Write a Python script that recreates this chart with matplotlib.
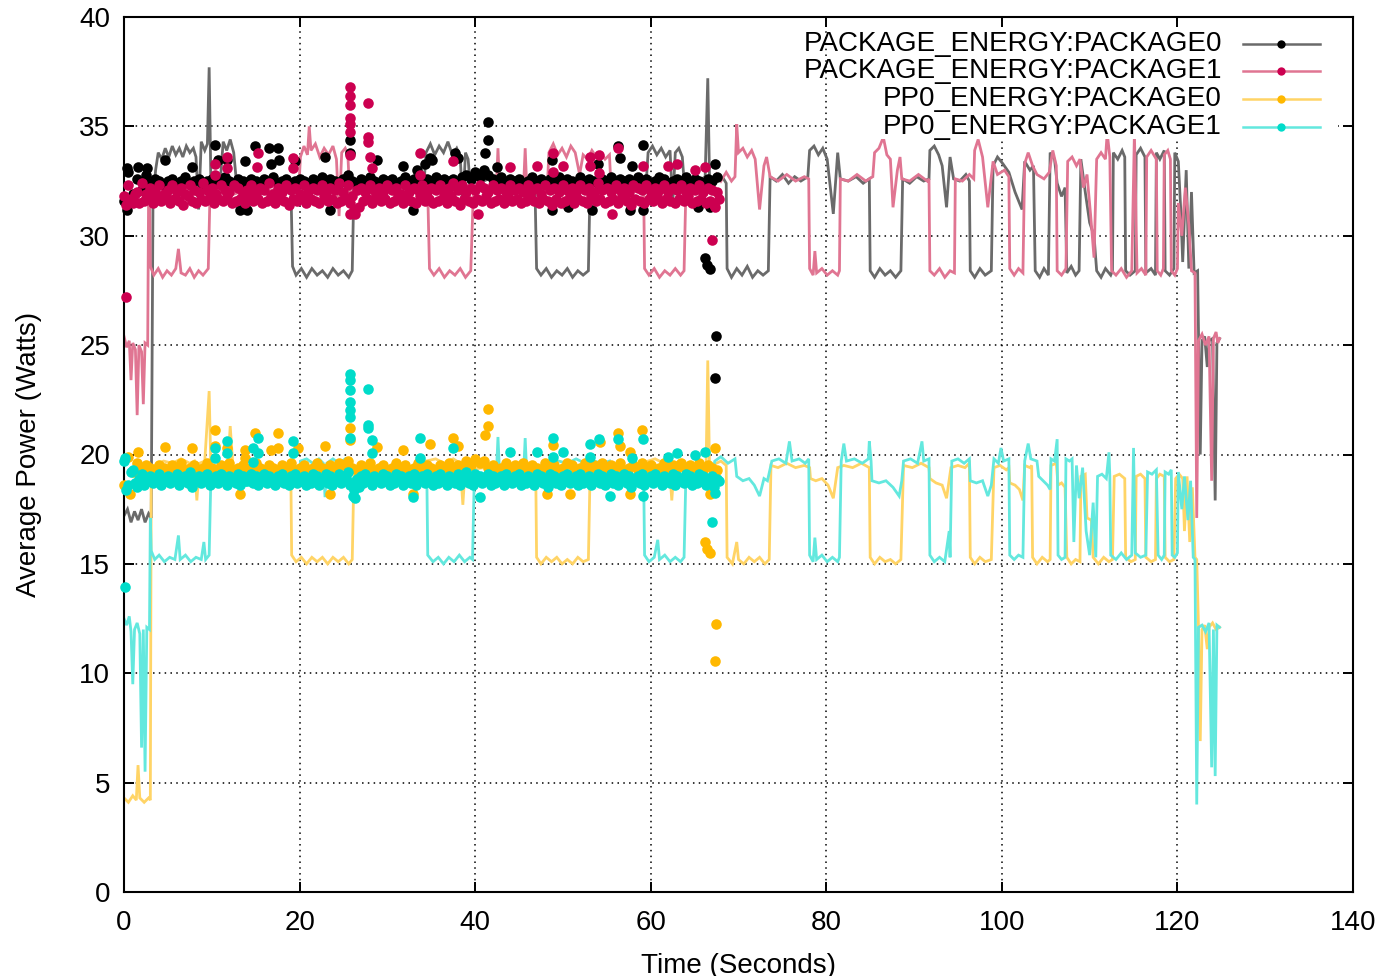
import numpy as np
import matplotlib
matplotlib.use("Agg")
import matplotlib.pyplot as plt
from matplotlib.lines import Line2D
from matplotlib.patches import Rectangle

plt.rcParams['font.family'] = ['Liberation Sans', 'DejaVu Sans']

# ---------------------------------------------------------------- series names
series_names = ["PACKAGE_ENERGY:PACKAGE0", "PACKAGE_ENERGY:PACKAGE1",
                "PP0_ENERGY:PACKAGE0", "PP0_ENERGY:PACKAGE1"]

# ------------------------------------------- full-run traces (time s, watts)
pkg0_line = [
    (0.0, 17.2), (0.4, 17.5), (0.8, 16.9), (1.2, 17.4), (1.6, 17.0), (2.0, 17.5), (2.4, 16.9), (2.8, 17.3), (3.1, 17.1),
    (3.3, 31.5), (3.6, 33.0), (3.9, 33.8), (4.3, 33.5), (4.7, 34.0), (5.1, 33.6), (5.5, 34.1), (5.9, 33.7), (6.3, 34.0),
    (6.7, 33.6), (7.1, 34.1), (7.5, 33.8), (7.9, 34.0), (8.2, 33.6), (8.5, 31.2), (8.8, 34.3), (9.2, 33.9), (9.5, 34.2),
    (9.7, 37.7), (9.9, 32.4), (10.5, 32.5), (11.0, 32.7), (11.3, 34.3), (11.7, 33.9), (12.1, 34.4), (12.5, 33.8),
    (12.8, 32.5), (14.0, 32.6), (15.0, 32.4), (16.0, 32.6), (17.0, 32.5), (18.0, 32.6), (19.0, 32.5),
    (19.2, 28.6), (19.6, 28.2), (20.2, 28.5), (20.8, 28.1), (21.4, 28.5), (22.0, 28.2), (22.6, 28.4), (23.2, 28.1),
    (23.8, 28.5), (24.4, 28.2), (25.0, 28.4), (25.6, 28.1), (26.0, 28.4),
    (26.2, 32.5), (27.0, 32.7), (28.0, 32.5), (29.0, 32.6), (30.0, 32.4), (31.0, 32.6), (32.0, 32.5), (33.0, 32.6), (34.2, 32.5),
    (34.4, 33.8), (34.9, 34.2), (35.4, 33.7), (35.9, 34.1), (36.4, 33.8), (36.9, 34.3), (37.4, 33.7), (37.9, 34.0),
    (38.3, 33.6), (38.6, 31.3), (38.9, 33.8), (39.2, 33.5), (39.4, 32.5), (40.0, 32.6), (41.0, 32.5), (42.0, 32.7),
    (43.0, 32.5), (44.0, 32.6), (45.0, 32.4), (46.8, 32.5),
    (47.0, 28.5), (47.5, 28.2), (48.1, 28.5), (48.7, 28.1), (49.3, 28.4), (49.9, 28.2), (50.5, 28.5), (51.1, 28.1),
    (51.7, 28.4), (52.3, 28.2), (52.9, 28.4),
    (53.1, 32.5), (54.0, 32.6), (55.0, 32.5), (56.0, 32.7), (57.0, 32.5), (58.0, 32.6), (59.5, 32.5),
    (59.7, 33.8), (60.2, 34.1), (60.7, 33.7), (61.2, 34.0), (61.7, 33.6), (62.2, 33.9), (62.5, 31.4), (62.8, 33.8),
    (63.2, 34.0), (63.6, 33.6), (63.8, 32.5), (64.5, 32.6), (65.5, 32.5), (66.2, 32.7), (66.5, 37.2), (66.7, 32.6),
    (67.5, 32.8), (68.3, 32.6), (68.6, 32.4),
    (68.7, 28.5), (69.2, 28.1), (69.8, 28.5), (70.4, 28.2), (71.0, 28.6), (71.6, 28.1), (72.2, 28.4), (72.8, 28.2), (73.4, 28.4),
    (73.6, 32.7), (74.3, 32.5), (75.0, 32.8), (75.7, 32.4), (76.4, 32.7), (77.1, 32.5), (77.9, 32.7),
    (78.1, 33.9), (78.6, 34.1), (79.1, 33.7), (79.6, 34.0), (80.1, 33.5), (80.8, 31.0), (81.3, 33.8), (81.6, 32.6),
    (82.5, 32.5), (83.4, 32.7), (84.2, 32.4), (84.9, 32.6),
    (85.0, 28.4), (85.5, 28.1), (86.1, 28.5), (86.7, 28.2), (87.3, 28.4), (87.9, 28.1), (88.5, 28.4),
    (88.7, 32.6), (89.5, 32.4), (90.3, 32.7), (91.1, 32.5), (91.7, 32.6),
    (91.8, 33.9), (92.3, 34.1), (92.8, 33.7), (93.2, 33.2), (93.7, 31.3), (94.1, 33.6), (94.5, 32.6), (95.2, 32.5),
    (95.9, 32.8), (96.3, 32.5),
    (96.4, 28.4), (96.9, 28.1), (97.5, 28.5), (98.1, 28.2), (98.8, 28.4),
    (99.0, 33.2), (99.5, 33.6), (100.1, 33.3), (100.8, 32.9), (101.5, 32.0), (102.3, 31.2), (102.6, 33.4), (103.2, 33.0), (103.6, 33.2),
    (103.8, 28.4), (104.3, 28.1), (104.8, 28.5), (105.3, 28.2),
    (105.5, 33.8), (106.0, 33.5), (106.3, 32.4), (106.8, 31.8), (107.2, 32.2),
    (107.4, 28.3), (107.9, 28.6), (108.4, 28.2), (108.8, 28.4),
    (109.0, 33.5), (109.5, 32.0), (110.0, 30.6), (110.5, 30.0), (110.8, 28.4), (111.3, 28.1), (111.8, 28.5), (112.4, 28.2), (112.6, 28.4),
    (112.7, 33.8), (113.2, 33.5), (113.7, 33.9), (114.0, 33.6),
    (114.1, 28.4), (114.6, 28.2), (115.2, 28.4),
    (115.3, 33.7), (115.8, 34.0), (116.3, 33.6),
    (116.4, 28.3), (117.0, 28.5), (117.5, 28.2),
    (117.6, 33.8), (118.0, 33.5), (118.5, 33.9),
    (118.6, 28.4), (119.1, 28.2), (119.6, 28.5),
    (119.7, 33.8), (120.1, 33.4), (120.4, 31.0), (120.6, 28.8), (121.0, 33.0), (121.3, 28.5), (121.6, 32.0), (121.9, 28.3), (122.3, 28.4),
    (122.6, 20.0), (122.8, 25.2), (123.1, 25.4), (123.4, 24.0), (123.6, 25.2), (124.0, 25.3), (124.3, 17.9), (124.5, 25.1), (124.8, 25.3),
]

pkg1_line = [
    (0.0, 25.4), (0.3, 24.9), (0.6, 25.2), (0.8, 23.4), (1.0, 25.1), (1.3, 24.8), (1.5, 21.8), (1.7, 25.0), (2.0, 24.7),
    (2.2, 22.3), (2.4, 25.1), (2.7, 25.0),
    (2.8, 31.8), (2.9, 32.3), (3.0, 28.6), (3.4, 28.2), (3.9, 28.5), (4.4, 28.1), (4.9, 28.4), (5.4, 28.2), (5.9, 28.5),
    (6.2, 29.4), (6.5, 28.3), (7.0, 28.2), (7.5, 28.5), (8.0, 28.1), (8.5, 28.4), (9.0, 28.2), (9.6, 28.5),
    (9.8, 32.0), (11.0, 32.1), (12.5, 31.9), (14.0, 32.1), (15.5, 31.9), (17.0, 32.1), (18.5, 32.0), (19.9, 32.1),
    (20.1, 33.6), (20.5, 34.1), (20.9, 33.7), (21.1, 35.0), (21.3, 33.9), (21.8, 34.2), (22.3, 33.6), (22.8, 34.0),
    (23.3, 33.7), (23.8, 34.1), (24.2, 33.5), (24.5, 30.9), (24.8, 33.8), (25.2, 34.0), (25.5, 33.7),
    (25.7, 32.0), (27.0, 32.1), (28.5, 31.9), (30.0, 32.1), (31.5, 31.9), (33.0, 32.1), (34.6, 32.0),
    (34.8, 28.5), (35.3, 28.2), (35.9, 28.5), (36.5, 28.1), (37.1, 28.4), (37.7, 28.2), (38.3, 28.5), (38.9, 28.1), (39.5, 28.4),
    (39.8, 32.0), (41.0, 32.1), (42.4, 32.0), (42.6, 34.0), (42.8, 32.1), (44.0, 32.0), (45.5, 32.1), (45.7, 34.0),
    (45.9, 32.0), (47.0, 32.1), (48.2, 32.0),
    (48.4, 33.8), (48.9, 34.2), (49.4, 33.7), (49.9, 34.0), (50.4, 33.6), (50.9, 34.1), (51.4, 33.8), (51.9, 32.8),
    (52.3, 33.7), (52.8, 33.5), (53.3, 33.9), (53.8, 33.6), (54.3, 33.8), (54.8, 33.5), (55.3, 33.7),
    (55.5, 32.0), (56.5, 32.1), (57.5, 31.9), (58.5, 32.1), (59.2, 32.0),
    (59.3, 28.5), (59.8, 28.2), (60.4, 28.5), (61.0, 28.1), (61.6, 28.4), (62.2, 28.2), (62.8, 28.5), (63.4, 28.2), (63.8, 28.4),
    (64.0, 32.0), (65.0, 32.1), (66.0, 31.9), (67.0, 32.3), (67.5, 32.8), (68.0, 32.5), (68.6, 32.9), (69.2, 32.5), (69.6, 32.7),
    (69.8, 35.1), (70.0, 33.8), (70.5, 34.0), (71.0, 33.6), (71.5, 33.9), (71.9, 33.5), (72.4, 31.2), (72.9, 33.2),
    (73.2, 33.6), (73.6, 32.7), (74.5, 32.5), (75.5, 32.8), (76.5, 32.5), (77.5, 32.7), (78.0, 32.6),
    (78.1, 28.5), (78.5, 28.2), (78.7, 29.3), (78.9, 28.3), (79.5, 28.5), (80.1, 28.2), (80.7, 28.4), (81.3, 28.2), (81.5, 28.4),
    (81.6, 32.6), (82.5, 32.5), (83.5, 32.8), (84.5, 32.5), (85.3, 32.7),
    (85.5, 33.8), (86.0, 34.0), (86.5, 34.5), (86.9, 33.7), (87.3, 33.5), (87.6, 31.3), (88.1, 33.0), (88.4, 33.6),
    (88.6, 32.6), (89.5, 32.5), (90.5, 32.8), (91.5, 32.5), (91.7, 32.6),
    (91.8, 28.4), (92.3, 28.2), (92.9, 28.5), (93.5, 28.1), (94.1, 28.4), (94.6, 28.3),
    (94.7, 32.6), (95.5, 32.5), (96.3, 32.8), (96.8, 32.6),
    (96.9, 33.9), (97.3, 34.4), (97.8, 33.6), (98.4, 31.3), (99.0, 33.4), (99.5, 32.8), (100.3, 33.0), (100.8, 32.7),
    (100.9, 28.5), (101.4, 28.2), (101.9, 28.5), (102.4, 28.3),
    (102.6, 33.3), (103.0, 33.8), (103.5, 33.2), (104.0, 32.8), (104.8, 32.6), (105.4, 32.9), (105.8, 33.9), (106.2, 33.2),
    (106.3, 28.4), (106.8, 28.2), (107.3, 28.5),
    (107.5, 33.4), (108.0, 33.6), (108.5, 33.2), (108.9, 33.5), (109.3, 32.2), (109.7, 32.8), (110.1, 31.0), (110.5, 29.0),
    (110.8, 33.5), (111.3, 33.8), (111.8, 33.5), (112.0, 34.7), (112.3, 33.6),
    (112.5, 28.4), (113.0, 28.2), (113.6, 28.5), (114.2, 28.1), (114.8, 28.4), (115.1, 34.7), (115.4, 28.3), (115.9, 28.5), (116.4, 28.2),
    (116.5, 33.6), (117.0, 33.9), (117.6, 33.5),
    (117.7, 28.4), (118.1, 28.2), (118.4, 28.5),
    (118.5, 33.7), (118.9, 33.9), (119.2, 33.5),
    (119.3, 28.4), (119.7, 28.2), (120.0, 28.5),
    (120.1, 31.5), (120.5, 30.0), (120.9, 32.2), (121.3, 30.5), (121.6, 28.4), (122.0, 28.3), (122.2, 17.1), (122.4, 25.2),
    (122.8, 25.5), (123.2, 25.0), (123.6, 25.4), (123.9, 18.8), (124.1, 25.3), (124.4, 25.6), (124.6, 25.1), (124.8, 25.3),
]

pp0_pkg0_line = [
    (0.0, 4.3), (0.5, 4.1), (1.0, 4.4), (1.4, 4.2), (1.6, 5.8), (1.8, 4.3), (2.3, 4.1), (2.8, 4.3), (3.0, 4.2),
    (3.1, 19.0), (3.5, 19.5), (4.5, 19.7), (5.5, 19.6), (6.5, 19.8), (7.5, 19.6), (8.0, 19.7), (8.3, 17.9), (8.6, 19.6),
    (9.2, 19.7), (9.7, 22.9), (9.9, 19.3), (11.0, 19.4), (11.8, 19.3), (12.1, 21.3), (12.4, 19.5), (13.5, 19.3),
    (15.0, 19.4), (16.5, 19.3), (18.0, 19.4), (19.0, 19.3),
    (19.1, 15.4), (19.6, 15.1), (20.2, 15.3), (20.8, 15.0), (21.4, 15.3), (22.0, 15.1), (22.6, 15.3), (23.2, 15.0),
    (23.8, 15.3), (24.4, 15.1), (25.0, 15.3), (25.6, 15.0), (26.0, 15.2),
    (26.2, 19.3), (27.5, 19.4), (29.0, 19.3), (30.5, 19.4), (32.0, 19.3), (34.2, 19.4),
    (34.4, 19.7), (35.5, 19.8), (36.5, 19.6), (37.5, 19.8), (38.3, 19.6), (38.6, 17.7), (38.9, 19.6), (39.2, 19.7),
    (39.4, 19.3), (41.0, 19.4), (43.0, 19.3), (45.0, 19.4), (46.9, 19.3),
    (47.0, 15.3), (47.5, 15.0), (48.1, 15.3), (48.7, 15.1), (49.3, 15.3), (49.9, 15.0), (50.5, 15.2), (51.1, 15.0),
    (51.7, 15.3), (52.3, 15.1), (52.9, 15.2),
    (53.1, 19.3), (55.0, 19.4), (57.0, 19.3), (59.5, 19.4),
    (59.7, 19.7), (60.5, 19.8), (61.5, 19.6), (62.1, 19.7), (62.4, 17.9), (62.7, 19.6), (63.6, 19.7), (63.8, 19.3),
    (65.0, 19.4), (66.3, 19.3), (66.5, 24.3), (66.7, 19.4), (67.5, 19.6), (68.0, 19.7), (68.6, 19.5),
    (68.7, 15.3), (69.3, 15.0), (69.8, 16.0), (70.0, 15.2), (70.6, 15.0), (71.2, 15.3), (71.8, 15.1), (72.4, 15.3),
    (73.0, 15.0), (73.5, 15.2),
    (73.7, 19.5), (74.5, 19.4), (75.5, 19.6), (76.5, 19.4), (77.5, 19.5), (78.1, 19.4),
    (78.2, 18.9), (78.8, 18.8), (79.5, 18.9), (80.2, 18.6), (80.8, 18.0), (81.3, 19.4), (82.0, 19.5), (83.0, 19.4),
    (84.0, 19.6), (84.9, 19.4),
    (85.0, 15.3), (85.5, 15.0), (86.1, 15.3), (86.7, 15.1), (87.3, 15.2), (87.9, 15.0), (88.5, 15.2),
    (88.8, 19.5), (89.8, 19.4), (90.8, 19.6), (91.7, 19.4),
    (91.8, 18.9), (92.5, 18.7), (93.2, 18.6), (93.7, 18.0), (94.2, 19.4), (95.0, 19.5), (95.8, 19.4), (96.3, 19.6),
    (96.4, 15.3), (96.9, 15.0), (97.5, 15.3), (98.1, 15.1), (98.8, 15.2),
    (99.1, 19.4), (99.8, 19.5), (100.5, 19.3), (100.8, 19.4),
    (100.9, 18.7), (101.5, 18.6), (102.0, 18.4), (102.4, 17.9), (102.6, 19.5), (103.2, 19.4), (103.4, 19.5),
    (103.5, 15.3), (104.0, 15.0), (104.6, 15.3), (105.2, 15.1), (105.5, 15.2),
    (105.6, 19.5), (106.2, 19.6), (106.4, 18.6), (106.8, 18.7), (107.2, 18.5),
    (107.4, 15.3), (107.9, 15.0), (108.4, 15.2), (108.9, 15.1),
    (109.0, 19.0), (109.5, 19.1), (109.7, 17.1), (110.2, 17.0), (110.4, 15.3), (111.0, 15.0), (111.6, 15.3), (112.2, 15.1), (112.6, 15.2),
    (112.8, 19.0), (113.4, 19.1), (114.0, 18.9),
    (114.1, 15.3), (114.7, 15.1), (115.2, 15.2),
    (115.3, 19.0), (115.8, 19.1), (116.3, 18.9),
    (116.4, 15.3), (117.0, 15.1), (117.5, 15.2),
    (117.6, 18.9), (118.0, 19.1), (118.5, 19.0),
    (118.6, 15.3), (119.1, 15.1), (119.6, 15.2),
    (119.8, 18.9), (120.2, 19.1), (120.6, 18.9),
    (120.8, 16.5), (121.1, 19.0), (121.4, 16.0), (121.7, 18.5), (122.0, 15.3), (122.2, 15.2),
    (122.4, 12.1), (122.6, 6.9), (122.8, 12.0), (123.1, 12.2), (123.4, 11.1), (123.6, 12.1), (124.0, 12.3), (124.4, 12.0), (124.8, 12.1),
]

pp0_pkg1_line = [
    (0.0, 12.5), (0.3, 12.2), (0.6, 12.6), (0.8, 11.9), (1.0, 9.5), (1.2, 12.0), (1.5, 12.3), (1.8, 11.8), (2.0, 6.6),
    (2.2, 12.0), (2.4, 5.5), (2.6, 12.1), (2.9, 12.0),
    (3.0, 17.1), (3.1, 15.6), (3.5, 15.2), (4.0, 15.4), (4.6, 15.1), (5.2, 15.3), (5.8, 15.2), (6.2, 16.3), (6.4, 15.2),
    (7.0, 15.4), (7.6, 15.1), (8.2, 15.3), (8.8, 15.2), (9.1, 16.0), (9.3, 15.2), (9.7, 15.4),
    (9.9, 19.0), (11.5, 18.9), (13.0, 19.0), (14.5, 18.8), (16.0, 19.0), (17.5, 18.9), (19.0, 19.0), (20.0, 18.9),
    (20.1, 19.7), (20.8, 19.8), (21.5, 19.6), (22.2, 19.8), (22.7, 19.6), (22.9, 18.05), (23.1, 19.6), (23.8, 19.8),
    (24.5, 19.6), (25.2, 19.8), (25.7, 19.6),
    (25.8, 18.9), (27.5, 19.0), (29.0, 18.8), (30.5, 19.0), (32.0, 18.9), (33.5, 19.0), (34.5, 18.9),
    (34.6, 15.4), (35.2, 15.1), (35.8, 15.3), (36.4, 15.0), (37.0, 15.3), (37.6, 15.1), (38.2, 15.4), (38.8, 15.1),
    (39.4, 15.3), (39.7, 15.2),
    (39.9, 18.9), (41.0, 19.0), (42.4, 18.9), (42.6, 20.8), (42.8, 19.0), (44.0, 18.9), (45.5, 19.0), (45.7, 20.75),
    (45.9, 18.9), (47.0, 19.0), (48.2, 18.9),
    (48.4, 19.6), (49.5, 19.7), (50.5, 19.6), (51.5, 19.8), (52.5, 19.6), (53.5, 19.7), (54.5, 19.6), (55.3, 19.7),
    (55.5, 18.9), (56.5, 19.0), (57.5, 18.8), (58.5, 19.0), (59.2, 18.9),
    (59.3, 15.4), (59.8, 15.1), (60.4, 15.3), (60.8, 16.1), (61.0, 15.2), (61.6, 15.4), (62.2, 15.1), (62.8, 15.3),
    (63.4, 15.1), (63.8, 15.3),
    (64.0, 18.9), (65.0, 19.0), (66.0, 18.9), (67.0, 19.1), (67.3, 19.7), (68.0, 19.9), (68.8, 19.6), (69.6, 19.8),
    (69.8, 19.0), (70.5, 18.8), (71.2, 18.9), (71.8, 18.6), (72.4, 18.1), (72.9, 18.9), (73.3, 18.8),
    (73.8, 19.7), (74.6, 19.8), (75.4, 19.6), (75.8, 20.6), (76.1, 19.7), (76.9, 19.8), (77.6, 19.6), (78.0, 19.8),
    (78.1, 15.4), (78.5, 15.1), (78.7, 16.2), (78.9, 15.2), (79.5, 15.4), (80.1, 15.1), (80.7, 15.3), (81.3, 15.1), (81.5, 15.3),
    (81.7, 19.7), (82.0, 20.5), (82.3, 19.7), (83.2, 19.8), (84.1, 19.6), (84.8, 19.8), (84.9, 20.6), (85.1, 19.7),
    (85.2, 18.8), (86.0, 18.7), (86.8, 18.8), (87.6, 18.5), (88.3, 18.1), (88.6, 18.8),
    (88.8, 19.7), (89.6, 19.8), (90.4, 19.6), (90.9, 20.6), (91.1, 19.7), (91.7, 19.8),
    (91.8, 15.4), (92.3, 15.1), (92.9, 15.3), (93.5, 15.1), (94.0, 16.5), (94.1, 15.3),
    (94.3, 19.7), (95.0, 19.8), (95.7, 19.6), (96.3, 19.8),
    (96.4, 18.8), (97.1, 18.7), (97.8, 18.8), (98.4, 18.1), (98.8, 18.6),
    (99.1, 19.8), (99.6, 19.6), (99.9, 20.3), (100.2, 19.7), (100.8, 19.8),
    (100.9, 15.4), (101.4, 15.2), (101.9, 15.4), (102.4, 15.3),
    (102.6, 19.7), (103.0, 20.5), (103.3, 19.8), (104.0, 19.7),
    (104.2, 19.0), (104.7, 18.8), (105.2, 18.6), (105.5, 18.4),
    (105.6, 19.8), (106.0, 19.7), (106.3, 20.7),
    (106.4, 15.4), (106.8, 15.2), (107.2, 15.3),
    (107.3, 19.8), (107.7, 19.7), (108.0, 19.8),
    (108.2, 16.0), (108.5, 19.5), (108.8, 18.0), (109.2, 19.4), (109.6, 16.5), (110.0, 15.4), (110.4, 17.8), (110.7, 15.3),
    (110.9, 19.0), (111.4, 19.1), (111.9, 18.9), (112.2, 20.1), (112.3, 19.0),
    (112.4, 15.4), (113.0, 15.2), (113.6, 15.5), (114.2, 15.2), (114.8, 15.4),
    (115.0, 20.3), (115.2, 15.5), (115.8, 15.3), (116.4, 15.4),
    (116.6, 19.2), (117.1, 19.1), (117.6, 19.3),
    (117.8, 15.4), (118.2, 15.2), (118.5, 15.4),
    (118.6, 19.2), (119.0, 19.1), (119.3, 19.3),
    (119.4, 15.4), (119.7, 15.3), (120.0, 15.5),
    (120.1, 19.2), (120.5, 17.5), (120.8, 19.0), (121.2, 17.0), (121.5, 18.8), (121.8, 15.3), (122.0, 15.2),
    (122.2, 4.0), (122.4, 12.1), (122.8, 12.2), (123.2, 11.9), (123.6, 12.3), (123.9, 5.7), (124.1, 12.0),
    (124.3, 5.3), (124.5, 12.2), (124.8, 12.1),
]

# --------------------- per-sample readings of the first run (every 0.5 s from t = 0)
pkg0_samples = [
    31.6, 32.9, 31.9, 32.6, 32.1, 32.8, 32.4, 32.6, 32.5, 32.3,
    32.5, 32.6, 32.4, 32.5, 32.7, 32.4, 32.5, 32.6, 32.3, 32.5,
    32.6, 32.4, 32.5, 32.7, 32.5, 32.4, 32.6, 32.5, 32.3, 32.6,
    32.5, 32.4, 32.6, 32.5, 32.7, 32.4, 32.5, 32.6, 32.4, 32.5,
    32.6, 32.5, 32.4, 32.6, 32.5, 32.7, 32.4, 32.6, 32.5, 32.4,
    32.6, 32.8, 32.5, 32.4, 32.6, 32.5, 32.7, 32.5, 32.4, 32.6,
    32.5, 32.6, 32.4, 32.5, 32.7, 32.5, 32.6, 32.4, 32.5, 32.6,
    32.5, 32.7, 32.4, 32.6, 32.5, 32.6, 32.4, 32.7, 32.8, 32.6,
    32.9, 32.7, 33.0, 32.8, 32.6, 32.5, 32.7, 32.4, 32.6, 32.5,
    32.6, 32.4, 32.5, 32.7, 32.5, 32.6, 32.4, 32.6, 32.5, 32.7,
    32.4, 32.6, 32.5, 32.4, 32.7, 32.5, 32.6, 32.5, 32.4, 32.6,
    32.5, 32.7, 32.4, 32.6, 32.5, 32.6, 32.4, 32.7, 32.5, 32.6,
    32.4, 32.5, 32.7, 32.6, 32.4, 32.5, 32.6, 32.5, 32.7, 32.4,
    32.6, 32.5, 32.4, 32.6, 32.5, 32.7,
]
# package 1 is sampled twice as often: first on the half second, then a quarter later
pkg1_samples_a = [
    31.8, 32.3, 31.5, 32.0, 32.4, 31.9, 32.2, 32.0, 32.3, 31.9,
    32.1, 32.3, 32.0, 32.2, 31.9, 32.3, 32.1, 32.0, 32.4, 32.1,
    32.2, 31.9, 32.3, 32.1, 32.0, 32.3, 32.2, 31.9, 32.1, 32.3,
    32.0, 32.2, 32.1, 32.4, 31.9, 32.2, 32.0, 32.3, 32.1, 32.2,
    31.9, 32.3, 32.0, 32.2, 32.1, 32.3, 32.0, 32.2, 32.1, 32.4,
    32.0, 32.3, 31.8, 32.1, 32.2, 32.0, 32.3, 32.1, 32.2, 32.0,
    32.3, 32.1, 32.2, 31.9, 32.3, 32.0, 32.2, 32.1, 32.3, 32.0,
    32.2, 32.1, 32.3, 32.0, 32.2, 32.4, 32.1, 32.3, 32.0, 32.2,
    32.1, 32.3, 32.2, 32.0, 32.3, 32.1, 32.2, 32.0, 32.3, 32.1,
    32.2, 32.0, 32.3, 32.1, 32.2, 31.9, 32.3, 32.1, 32.2, 32.0,
    32.3, 32.1, 32.2, 32.0, 32.3, 32.1, 32.2, 32.0, 32.4, 32.1,
    32.2, 32.0, 32.3, 32.1, 32.2, 32.0, 32.3, 32.2, 32.1, 32.3,
    32.0, 32.2, 32.1, 32.3, 32.0, 32.2, 32.1, 32.3, 32.0, 32.2,
    32.1, 32.3, 32.0, 32.2, 32.1, 32.0,
]
pkg1_samples_b = [
    31.4, 31.7, 31.9, 31.5, 31.6, 31.8, 31.5, 31.7, 31.6, 31.8,
    31.5, 31.7, 31.6, 31.4, 31.8, 31.6, 31.5, 31.7, 31.6, 31.8,
    31.5, 31.7, 31.6, 31.8, 31.5, 31.6, 31.7, 31.5, 31.8, 31.6,
    31.7, 31.5, 31.6, 31.8, 31.5, 31.7, 31.6, 31.4, 31.7, 31.6,
    31.8, 31.5, 31.7, 31.6, 31.5, 31.8, 31.6, 31.7, 31.5, 31.6,
    31.7, 31.5, 31.2, 31.3, 31.6, 31.7, 31.5, 31.8, 31.6, 31.7,
    31.5, 31.6, 31.8, 31.5, 31.7, 31.6, 31.5, 31.8, 31.6, 31.7,
    31.5, 31.6, 31.7, 31.5, 31.8, 31.6, 31.4, 31.7, 31.6, 31.5,
    31.7, 31.6, 31.8, 31.5, 31.6, 31.7, 31.5, 31.8, 31.6, 31.7,
    31.5, 31.6, 31.8, 31.6, 31.5, 31.7, 31.6, 31.4, 31.7, 31.5,
    31.6, 31.8, 31.5, 31.7, 31.6, 31.5, 31.8, 31.6, 31.7, 31.5,
    31.6, 31.7, 31.5, 31.8, 31.6, 31.4, 31.7, 31.6, 31.5, 31.7,
    31.6, 31.8, 31.5, 31.7, 31.6, 31.5, 31.7, 31.6, 31.8, 31.5,
    31.6, 31.7, 31.5, 31.6, 31.4, 31.7,
]
pp0_pkg0_samples = [
    18.6, 19.9, 19.2, 19.6, 19.3, 19.5, 19.4, 19.3, 19.5, 19.4,
    19.3, 19.5, 19.4, 19.6, 19.3, 19.4, 19.5, 19.3, 19.4, 19.6,
    19.4, 19.3, 19.5, 19.4, 19.6, 19.3, 19.4, 19.5, 19.3, 19.4,
    19.6, 19.4, 19.3, 19.5, 19.4, 19.3, 19.5, 19.4, 19.6, 19.3,
    19.4, 19.5, 19.3, 19.4, 19.6, 19.4, 19.3, 19.5, 19.4, 19.6,
    19.5, 19.7, 19.4, 19.3, 19.5, 19.4, 19.6, 19.3, 19.4, 19.5,
    19.3, 19.4, 19.6, 19.4, 19.5, 19.3, 19.4, 19.6, 19.3, 19.5,
    19.4, 19.3, 19.5, 19.4, 19.6, 19.3, 19.5, 19.4, 19.7, 19.5,
    19.8, 19.6, 19.7, 19.4, 19.5, 19.3, 19.4, 19.6, 19.3, 19.5,
    19.4, 19.6, 19.3, 19.5, 19.4, 19.3, 19.6, 19.4, 19.5, 19.3,
    19.4, 19.6, 19.5, 19.3, 19.4, 19.6, 19.3, 19.5, 19.4, 19.6,
    19.3, 19.5, 19.4, 19.6, 19.3, 19.4, 19.5, 19.3, 19.6, 19.4,
    19.5, 19.3, 19.4, 19.6, 19.3, 19.5, 19.4, 19.6, 19.3, 19.5,
    19.4, 19.6, 19.3, 19.5, 19.4, 19.3,
]
pp0_pkg1_samples_a = [
    19.7, 18.6, 19.3, 18.5, 19.1, 18.9, 19.0, 18.8, 19.1, 18.9,
    19.0, 18.8, 19.1, 18.9, 19.0, 19.2, 18.9, 19.0, 18.8, 19.1,
    18.9, 19.0, 19.1, 18.8, 19.0, 18.9, 19.1, 19.0, 18.8, 19.1,
    19.0, 18.9, 19.1, 19.0, 18.8, 19.0, 19.1, 18.9, 19.0, 19.1,
    18.9, 19.0, 18.8, 19.1, 19.0, 18.9, 19.1, 19.0, 18.9, 19.1,
    19.0, 19.2, 18.7, 18.9, 19.0, 19.1, 18.9, 19.0, 18.8, 19.1,
    19.0, 18.9, 19.1, 19.0, 18.8, 19.0, 19.1, 18.9, 19.0, 19.1,
    18.9, 19.0, 19.1, 18.8, 19.0, 18.9, 19.1, 19.0, 19.2, 18.9,
    19.1, 19.0, 18.9, 19.1, 19.0, 18.8, 19.0, 19.1, 18.9, 19.0,
    19.1, 18.9, 19.0, 18.8, 19.1, 19.0, 18.9, 19.1, 19.0, 18.8,
    19.0, 19.1, 18.9, 19.0, 19.1, 18.9, 19.0, 18.8, 19.1, 19.0,
    18.9, 19.1, 19.0, 18.9, 19.1, 19.0, 18.8, 19.0, 19.1, 18.9,
    19.0, 19.1, 18.9, 19.0, 18.8, 19.1, 19.0, 18.9, 19.1, 19.0,
    18.9, 19.1, 19.0, 18.8, 19.0, 18.9,
]
pp0_pkg1_samples_b = [
    18.4, 19.2, 18.7, 18.9, 18.6, 18.8, 18.7, 18.9, 18.6, 18.8,
    18.7, 18.9, 18.6, 18.8, 18.7, 18.5, 18.8, 18.7, 18.9, 18.6,
    18.8, 18.7, 18.9, 18.6, 18.8, 18.7, 18.6, 18.8, 18.9, 18.7,
    18.6, 18.8, 18.7, 18.9, 18.6, 18.8, 18.7, 18.6, 18.9, 18.7,
    18.8, 18.6, 18.7, 18.9, 18.6, 18.8, 18.7, 18.6, 18.8, 18.7,
    18.9, 18.6, 18.4, 18.5, 18.7, 18.8, 18.6, 18.9, 18.7, 18.8,
    18.6, 18.7, 18.9, 18.6, 18.8, 18.7, 18.6, 18.9, 18.7, 18.8,
    18.6, 18.7, 18.8, 18.6, 18.9, 18.7, 18.6, 18.8, 18.7, 18.6,
    18.8, 18.7, 18.9, 18.6, 18.7, 18.8, 18.6, 18.9, 18.7, 18.8,
    18.6, 18.7, 18.9, 18.6, 18.8, 18.7, 18.5, 18.8, 18.7, 18.6,
    18.8, 18.7, 18.9, 18.6, 18.7, 18.8, 18.6, 18.9, 18.7, 18.6,
    18.8, 18.7, 18.6, 18.9, 18.7, 18.5, 18.8, 18.7, 18.6, 18.8,
    18.7, 18.9, 18.6, 18.8, 18.7, 18.6, 18.8, 18.7, 18.9, 18.6,
    18.7, 18.8, 18.6, 18.7, 18.5, 18.8,
]

# ------------------------------------ isolated readings of the first run (t, W)
pkg0_extra = [
    (0.3, 33.1), (1.6, 33.15), (2.6, 33.1), (4.7, 33.45), (7.7, 33.15), (10.4, 34.15), (10.7, 33.45), (11.7, 33.45),
    (13.8, 33.4), (14.9, 34.1), (16.5, 34.0), (16.8, 33.3), (17.5, 34.0), (17.6, 33.45), (19.5, 33.4), (22.9, 33.6),
    (25.7, 34.4), (25.7, 33.8), (28.8, 33.45), (31.8, 33.2), (33.4, 33.0), (34.3, 33.3), (34.9, 33.55), (35.1, 33.45),
    (37.7, 33.8), (38.0, 33.55), (41.1, 33.8), (41.5, 35.2), (41.5, 34.4), (42.5, 33.15), (48.8, 33.45), (54.0, 33.3),
    (56.3, 34.1), (56.5, 33.55), (57.9, 33.2), (59.1, 34.15), (67.3, 33.3),
    (0.3, 31.2), (13.2, 31.2), (14.0, 31.2), (23.5, 31.2), (32.9, 31.2), (48.8, 31.2), (50.6, 31.3), (53.3, 31.2),
    (57.6, 31.2), (59.1, 31.2), (65.4, 31.3), (66.7, 31.3),
    (66.2, 29.0), (66.4, 28.65), (66.8, 28.5), (67.4, 25.4), (67.3, 23.5),
]
pkg1_extra = [
    (0.2, 27.2), (10.4, 33.3), (10.4, 32.8), (11.7, 33.6), (11.7, 33.1), (15.3, 33.8), (15.1, 33.15), (19.3, 33.55),
    (19.3, 33.1), (25.7, 36.8), (25.7, 36.4), (25.7, 36.0), (25.7, 35.4), (25.7, 35.1), (25.7, 34.75), (25.7, 33.7),
    (27.8, 36.05), (27.8, 34.5), (27.8, 34.3), (28.0, 33.6), (28.2, 33.1), (33.7, 33.8), (33.7, 32.8), (37.5, 33.4),
    (44.0, 33.15), (47.0, 33.2), (48.9, 33.8), (48.9, 32.9), (50.0, 33.2), (53.1, 33.6), (53.1, 33.2), (54.1, 33.7),
    (54.1, 32.85), (56.3, 34.0), (59.1, 33.2), (62.0, 33.2), (63.0, 33.3), (65.0, 33.0), (66.2, 33.15),
    (25.7, 31.0), (26.3, 31.0), (40.3, 31.0), (55.6, 31.0),
    (67.0, 29.8), (67.3, 31.3),
]
pp0_pkg0_extra = [
    (1.6, 20.1), (4.7, 20.35), (7.7, 20.3), (10.4, 21.1), (10.4, 20.4), (11.7, 20.3), (13.8, 20.2), (13.8, 19.85),
    (14.9, 21.0), (16.8, 20.2), (17.5, 21.0), (17.5, 20.3), (19.8, 20.3), (22.9, 20.4), (25.7, 21.2), (25.7, 20.65),
    (28.8, 20.35), (31.8, 20.2), (34.9, 20.5), (37.5, 20.75), (38.0, 20.4), (41.5, 22.1), (41.5, 21.3), (41.1, 20.9),
    (48.9, 20.45), (54.2, 20.55), (56.3, 21.0), (56.5, 20.4), (57.6, 20.1), (59.0, 21.1), (67.3, 20.3),
    (0.7, 18.2), (13.2, 18.2), (23.5, 18.2), (32.9, 18.2), (48.2, 18.2), (50.8, 18.2), (57.6, 18.2), (66.8, 18.2),
    (66.2, 16.0), (66.4, 15.7), (66.8, 15.5), (67.4, 12.25), (67.3, 10.55),
]
pp0_pkg1_extra = [
    (0.1, 19.85), (0.1, 13.95), (10.4, 20.3), (10.4, 19.85), (11.7, 20.6), (11.7, 20.05), (14.7, 20.3), (14.7, 19.65),
    (15.3, 20.75), (15.3, 20.05), (19.3, 20.6), (19.3, 20.05), (25.7, 23.7), (25.7, 23.4), (25.7, 22.95), (25.7, 22.4),
    (25.7, 22.05), (25.7, 21.7), (25.7, 20.75), (27.8, 23.0), (27.8, 21.35), (27.8, 21.2), (28.2, 20.65), (28.2, 20.05),
    (33.7, 20.75), (33.7, 19.85), (37.5, 20.3), (44.0, 20.1), (47.0, 20.1), (48.9, 20.75), (48.9, 19.9), (50.0, 20.1),
    (53.1, 20.5), (53.1, 19.9), (54.1, 20.7), (56.3, 20.7), (57.9, 19.85), (59.1, 20.7), (62.0, 19.9), (63.0, 20.05),
    (65.0, 20.0), (66.2, 20.1),
    (26.1, 18.1), (26.3, 18.0), (32.9, 18.05), (40.5, 18.05), (55.4, 18.1), (59.1, 18.1),
    (67.0, 16.9), (67.3, 18.25),
]

# ------------------------------------------------------------------- axes setup
x_ticks = [0, 20, 40, 60, 80, 100, 120, 140]
y_ticks = [0, 5, 10, 15, 20, 25, 30, 35, 40]

marker_colors = ["#000000", "#cc0050", "#ffb800", "#00dcca"]
line_colors = ["#6a6a6a", "#e07592", "#ffd466", "#63e8de"]

FS = 20
W, H = 1386, 976
fig = plt.figure(figsize=(W / 100, H / 100), dpi=100)
ax = fig.add_axes([124 / W, (H - 892) / H, 1229 / W, 875 / H])
ax.set_xlim(0, 140)
ax.set_ylim(0, 40)
ax.set_xticks(x_ticks)
ax.set_yticks(y_ticks)
ax.tick_params(direction="in", length=7, width=1.4, top=True, right=True,
               labelsize=FS, pad=10)
ax.tick_params(axis="x", pad=13)
for s in ax.spines.values():
    s.set_linewidth(1.5)
ax.set_axisbelow(True)
ax.grid(True, color="black", linestyle=(0, (1, 2.8)), linewidth=1.1)
ax.set_xlabel("Time (Seconds)", fontsize=FS, labelpad=12)
ax.set_ylabel("Average Power (Watts)", fontsize=FS, labelpad=27)


def unzip(pairs):
    return [p[0] for p in pairs], [p[1] for p in pairs]


# traces for the whole run
for pts, col in zip([pkg0_line, pkg1_line, pp0_pkg0_line, pp0_pkg1_line], line_colors):
    t, v = unzip(pts)
    ax.plot(t, v, color=col, lw=2.0, zorder=2, solid_joinstyle="miter")

# sampled points of the first run
MS = 7.6
point_sets = [
    ([pkg0_samples], pkg0_extra),
    ([pkg1_samples_a, pkg1_samples_b], pkg1_extra),
    ([pp0_pkg0_samples], pp0_pkg0_extra),
    ([pp0_pkg1_samples_a, pp0_pkg1_samples_b], pp0_pkg1_extra),
]
for (sample_lists, extra), col in zip(point_sets, marker_colors):
    for k, vals in enumerate(sample_lists):
        t = 0.5 * np.arange(len(vals)) + 0.25 * k
        ax.plot(t, vals, "o", ms=MS, color=col, mew=0, zorder=3, clip_on=False)
    t, v = unzip(extra)
    ax.plot(t, v, "o", ms=MS, color=col, mew=0, zorder=3, clip_on=False)


# key, drawn opaque over the plot area
def fx(px):
    return px / W


def fy(py):
    return 1 - py / H


fig.add_artist(Rectangle((fx(832), fy(139)), fx(1338) - fx(832), fy(29) - fy(139),
                         transform=fig.transFigure, facecolor="white", edgecolor="none", zorder=5))
rows = [44, 71, 99, 127]
for name, py, lc, mc in zip(series_names, rows, line_colors, marker_colors):
    fig.text(fx(1222), fy(py), name, ha="right", va="center", fontsize=FS, zorder=6)
    fig.add_artist(Line2D([fx(1243), fx(1320)], [fy(py), fy(py)], transform=fig.transFigure,
                          color=lc, lw=1.8, zorder=6))
    fig.add_artist(Line2D([fx(1281)], [fy(py)], transform=fig.transFigure, marker="o",
                          ms=6, color=mc, mew=0, zorder=7))

fig.savefig("out.png", dpi=100)
